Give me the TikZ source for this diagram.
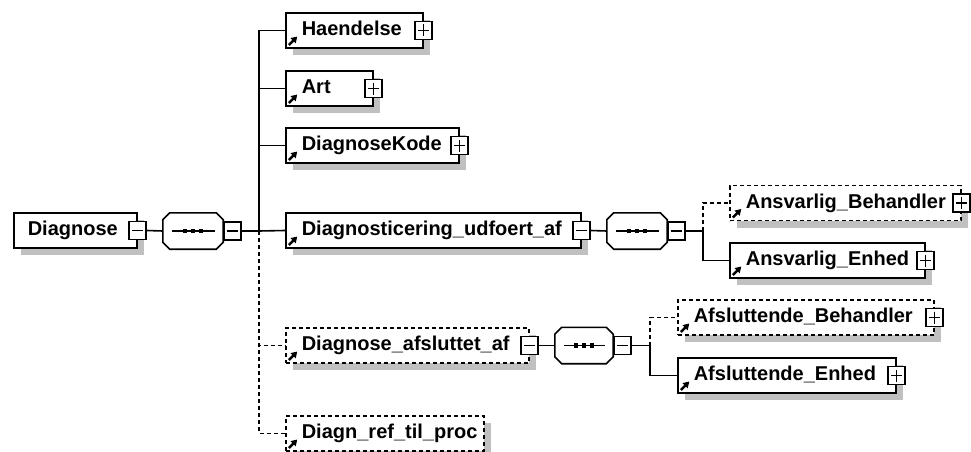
\documentclass[tikz,border=0pt]{standalone}
\usepackage{fontspec}
\setmainfont{Liberation Sans}
\usepackage{tikz}
\usetikzlibrary{positioning, shadows, arrows.meta}
\definecolor{shadowgray}{RGB}{192,192,192}
\tikzstyle{rootelem} = [rectangle, draw=black, line width=1.6pt, fill=white, anchor=west, minimum height=35pt, inner xsep=0pt, inner ysep=0pt, align=left, text height=14pt, text depth=4pt, font=\bfseries\fontsize{20}{22}\selectfont, drop shadow={shadow xshift=7pt, shadow yshift=-7pt, fill=shadowgray, opacity=1}]
\tikzstyle{elem}     = [rootelem, path picture={\draw[solid, line width=2.4pt, -{Triangle[length=6pt, width=7pt]}] ([shift={(3pt,3pt)}]path picture bounding box.south west) -- ++(8.5pt,8.5pt);}]
\tikzstyle{optelem}  = [elem, dash pattern=on 4pt off 3pt]
\tikzstyle{seqbox}   = [rectangle, minimum width=60pt, minimum height=36pt, inner sep=0pt]
\tikzstyle{togglebox} = [rectangle, draw=black, line width=1.3pt, fill=white, minimum width=17pt, minimum height=18pt, inner sep=0pt]
\tikzstyle{minusbox} = [togglebox, path picture={\draw[line width=1.3pt] ([xshift=3pt]path picture bounding box.west) -- ([xshift=-3pt]path picture bounding box.east);}]
\tikzstyle{plusbox}  = [togglebox, path picture={\draw[line width=1.3pt] ([xshift=3pt]path picture bounding box.west) -- ([xshift=-3pt]path picture bounding box.east); \draw[line width=1.3pt] ([yshift=-3pt]path picture bounding box.north) -- ([yshift=3pt]path picture bounding box.south);}]
\tikzstyle{link}     = [draw=black, line width=1.6pt]
\tikzstyle{optlink}  = [link, dash pattern=on 4pt off 3pt]

% octagon of a sequence group, drawn round the named node #1
\newcommand{\octpath}[1]{([xshift=7pt]#1.north west) -- ([xshift=-7pt]#1.north east) -- ([yshift=-7pt]#1.north east) -- ([yshift=7pt]#1.south east) -- ([xshift=-7pt]#1.south east) -- ([xshift=7pt]#1.south west) -- ([yshift=7pt]#1.south west) -- ([yshift=-7pt]#1.north west) -- cycle}
\newcommand{\drawseq}[1]{%
  \fill[shadowgray, shift={(7pt,-7pt)}] \octpath{#1};
  \draw[link, fill=white] \octpath{#1};
  \draw[line width=1.5pt] ([xshift=9pt]#1.west) -- ([xshift=-8pt]#1.east);
  \foreach \dx in {-8,0,8}
    \fill[black] ([xshift=\dx pt]#1.center) ++(-2.3pt,-2.3pt) rectangle ++(4.6pt,4.6pt);
}

\begin{document}
\begin{tikzpicture}[x=1pt, y=-1pt]
            \useasboundingbox (0,0) rectangle (971,452);

            % root and first sequence
            \node[rootelem, text width=123pt] (root) at (13,230.5) {\hspace*{14pt}Diagnose};
            \node[minusbox] (root-c) at (root.east) {};
            \node[seqbox] (seq1) at (193,231) {};
            \drawseq{seq1}
            \node[minusbox, right=0pt of seq1] (seq1-c) {};
            \coordinate (fork1) at (259,231);

            % children of Diagnose
            \node[elem, text width=137pt] (hdl) at (285,30.5) {\hspace*{16pt}Haendelse};
            \node[plusbox] (hdl-x) at (hdl.east) {};
            \node[elem, text width=87pt] (art) at (285,88.5) {\hspace*{16pt}Art};
            \node[plusbox] (art-x) at (art.east) {};
            \node[elem, text width=173pt] (dkd) at (285,145.5) {\hspace*{16pt}DiagnoseKode};
            \node[plusbox] (dkd-x) at (dkd.east) {};
            \node[elem, text width=295pt] (dgu) at (285,230.5) {\hspace*{16pt}Diagnosticering\_udfoert\_af};
            \node[minusbox] (dgu-c) at (dgu.east) {};
            \node[optelem, text width=243pt] (daf) at (285,345.5) {\hspace*{16pt}Diagnose\_afsluttet\_af};
            \node[minusbox] (daf-c) at (daf.east) {};
            \node[optelem, text width=198pt] (drp) at (285,433.5) {\hspace*{16pt}Diagn\_ref\_til\_proc};

            % Diagnosticering_udfoert_af
            \node[seqbox] (seq2) at (637,231) {};
            \drawseq{seq2}
            \node[minusbox, right=0pt of seq2] (seq2-c) {};
            \coordinate (fork2) at (703,231);
            \node[optelem, text width=231pt] (abh) at (729,203) {\hspace*{16pt}Ansvarlig\_Behandler};
            \node[plusbox] (abh-x) at (abh.east) {};
            \node[elem, text width=195pt] (aen) at (729,260.5) {\hspace*{16pt}Ansvarlig\_Enhed};
            \node[plusbox] (aen-x) at (aen.east) {};

            % Diagnose_afsluttet_af
            \node[seqbox, minimum width=58pt] (seq3) at (584,345.5) {};
            \drawseq{seq3}
            \node[minusbox, right=0pt of seq3] (seq3-c) {};
            \coordinate (fork3) at (650,345.5);
            \node[optelem, text width=256pt] (afb) at (677,317.5) {\hspace*{16pt}Afsluttende\_Behandler};
            \node[plusbox] (afb-x) at (afb.east) {};
            \node[elem, text width=218pt] (afe) at (677,375.5) {\hspace*{16pt}Afsluttende\_Enhed};
            \node[plusbox] (afe-x) at (afe.east) {};

            \draw[link] (root-c.east) -- (seq1.west);
            \draw[link] (seq1-c.east) -- (fork1);
            \draw[link] (fork1) |- (hdl.west);
            \draw[link] (fork1) |- (art.west);
            \draw[link] (fork1) |- (dkd.west);
            \draw[link] (fork1) -- (dgu.west);
            \draw[optlink] (fork1) |- (daf.west);
            \draw[optlink] (fork1) |- (drp.west);

            \draw[link] (dgu-c.east) -- (seq2.west);
            \draw[link] (seq2-c.east) -- (fork2);
            \draw[optlink] (fork2) |- (abh.west);
            \draw[link] (fork2) |- (aen.west);

            \draw[link] (daf-c.east) -- (seq3.west);
            \draw[link] (seq3-c.east) -- (fork3);
            \draw[optlink] (fork3) |- (afb.west);
            \draw[link] (fork3) |- (afe.west);
        \end{tikzpicture}
\end{document}
